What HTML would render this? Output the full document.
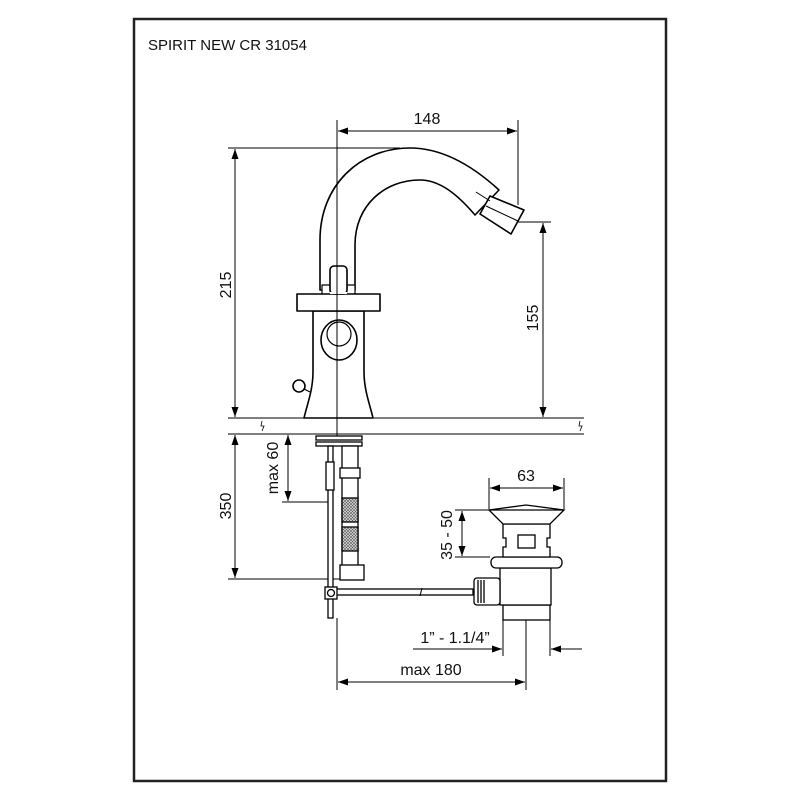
<!DOCTYPE html>
<html><head><meta charset="utf-8"><style>
html,body{margin:0;padding:0;background:#fff;}
svg{display:block;}
text{font-family:"Liberation Sans",sans-serif;fill:#111;}
</style></head><body>
<svg width="800" height="800" viewBox="0 0 800 800" xmlns="http://www.w3.org/2000/svg">
<defs>
<marker id="a" viewBox="0 0 10 10" refX="10" refY="5" markerWidth="10" markerHeight="10" markerUnits="userSpaceOnUse" orient="auto-start-reverse">
<path d="M0,1.5 L10,5 L0,8.5 Z" fill="#000"/></marker>
<pattern id="h" width="3" height="3" patternUnits="userSpaceOnUse">
<rect width="3" height="3" fill="#ddd"/><path d="M0,3 L3,0 M0,0 L3,3" stroke="#555" stroke-width="0.6"/></pattern>
</defs>
<rect x="134" y="19" width="532" height="762" fill="none" stroke="#222" stroke-width="2.5"/>
<text x="148" y="50" font-size="15">SPIRIT NEW CR 31054</text>

<g stroke="#000" fill="none" stroke-width="1">
<line x1="337" y1="120" x2="337" y2="440"/>
<line x1="518" y1="120" x2="518" y2="205"/>
<line x1="338" y1="131" x2="517" y2="131" marker-start="url(#a)" marker-end="url(#a)"/>
<line x1="228" y1="148" x2="400" y2="148"/>
<line x1="235" y1="149" x2="235" y2="417" marker-start="url(#a)" marker-end="url(#a)"/>
<line x1="515" y1="222" x2="551" y2="222"/>
<line x1="543" y1="223" x2="543" y2="417" marker-start="url(#a)" marker-end="url(#a)"/>
<line x1="228" y1="418" x2="584" y2="418"/>
<line x1="228" y1="434" x2="584" y2="434"/>
<path d="M262,421 l-1,5 l3,0 l-2,5 M580,421 l-1,5 l3,0 l-2,5" stroke-width="0.8"/>
</g>

<g stroke="#000" fill="#fff" stroke-width="1.6" stroke-linejoin="round">
<path d="M320,290 L320,240 C320,185 360,148 410,148 C445,148 475,168 499,190 L475,215 C458,195 440,180 420,180 C385,180 355,205 355,245 L355,290 Z"/>
<polygon points="490,196 524,210 511,234 480,214"/>
<path d="M486,206 L518,221" stroke-width="1"/>
<line x1="476" y1="192" x2="490" y2="201" stroke-width="1"/>
<path d="M313,311 L313,372 C313,390 307,405 304,418 L373,418 C370,405 364,390 364,372 L364,311 Z"/>
<ellipse cx="339" cy="340" rx="18" ry="20"/>
<ellipse cx="339" cy="334" rx="12" ry="12" stroke-width="1.2"/>
<rect x="322" y="285" width="33" height="10" stroke-width="1.2"/>
<rect x="297" y="294" width="83" height="17"/>
<rect x="330" y="266" width="17" height="28" rx="4"/>
<line x1="330" y1="293" x2="347" y2="293" stroke="#fff" stroke-width="2"/>
<circle cx="299" cy="386" r="6"/>
<line x1="304" y1="389" x2="310" y2="392" stroke-width="1.2"/>
</g>
<line x1="337" y1="120" x2="337" y2="440" stroke="#000" stroke-width="1"/>

<g stroke="#000" fill="none" stroke-width="1">
<line x1="235" y1="435" x2="235" y2="578" marker-start="url(#a)" marker-end="url(#a)"/>
<line x1="228" y1="579" x2="345" y2="579"/>
<line x1="288" y1="435" x2="288" y2="501" marker-start="url(#a)" marker-end="url(#a)"/>
<line x1="282" y1="502" x2="330" y2="502"/>
</g>

<g stroke="#000" fill="#fff" stroke-width="1.3">
<rect x="316" y="436" width="46" height="4"/>
<rect x="316" y="442" width="46" height="4"/>
<rect x="328" y="446" width="5" height="172"/>
<rect x="326" y="462" width="8" height="28"/>
<rect x="342" y="446" width="16" height="120"/>
<rect x="340" y="468" width="20" height="10"/>
<rect x="342" y="498" width="16" height="24" fill="url(#h)"/>
<rect x="342" y="527" width="16" height="24" fill="url(#h)"/>
<rect x="340" y="565" width="24" height="15"/>
<rect x="328" y="589" width="145" height="6"/>
<rect x="325" y="587" width="12" height="12"/>
<circle cx="331" cy="593" r="3.5"/>
</g>
<path d="M422,588 l-2,8" stroke="#000" stroke-width="1"/>

<g stroke="#000" fill="#fff" stroke-width="1.3">
<rect x="503" y="605" width="47" height="15"/>
<rect x="500" y="568" width="51" height="37"/>
<rect x="474" y="578" width="26" height="27" rx="3"/>
<line x1="478" y1="580" x2="478" y2="603"/><line x1="481" y1="580" x2="481" y2="603"/><line x1="484" y1="580" x2="484" y2="603"/>
<rect x="491" y="557" width="71" height="11" rx="5"/>
<path d="M503,524 L550,524 L550,538 L547,538 L547,547 L550,547 L550,557 L503,557 L503,547 L506,547 L506,538 L503,538 Z"/>
<rect x="518" y="535" width="17" height="13"/>
<path d="M489,510 L564,510 L550,524 L503,524 Z"/>
<path d="M489,510 L526,505 L564,510" fill="none"/>
</g>

<g stroke="#000" fill="none" stroke-width="1">
<line x1="489" y1="478" x2="489" y2="509"/>
<line x1="564" y1="478" x2="564" y2="509"/>
<line x1="490" y1="488" x2="563" y2="488" marker-start="url(#a)" marker-end="url(#a)"/>
<line x1="455" y1="510" x2="490" y2="510"/>
<line x1="455" y1="557" x2="490" y2="557"/>
<line x1="462" y1="511" x2="462" y2="556" marker-start="url(#a)" marker-end="url(#a)"/>
<line x1="503" y1="620" x2="503" y2="656"/>
<line x1="550" y1="620" x2="550" y2="656"/>
<line x1="413" y1="649" x2="502" y2="649" marker-end="url(#a)"/>
<line x1="582" y1="649" x2="551" y2="649" marker-end="url(#a)"/>
<line x1="526" y1="620" x2="526" y2="690"/>
<line x1="337" y1="618" x2="337" y2="690"/>
<line x1="338" y1="682" x2="525" y2="682" marker-start="url(#a)" marker-end="url(#a)"/>
</g>

<g font-size="16">
<text x="427" y="124" text-anchor="middle">148</text>
<text transform="translate(231,285) rotate(-90)" text-anchor="middle">215</text>
<text transform="translate(538,318) rotate(-90)" text-anchor="middle">155</text>
<text transform="translate(231,506) rotate(-90)" text-anchor="middle">350</text>
<text transform="translate(278,468) rotate(-90)" text-anchor="middle">max 60</text>
<text x="526" y="481" text-anchor="middle">63</text>
<text transform="translate(452,535) rotate(-90)" text-anchor="middle">35 - 50</text>
<text x="455" y="643" text-anchor="middle">1” - 1.1/4”</text>
<text x="431" y="675" text-anchor="middle">max 180</text>
</g>
</svg>
</body></html>
